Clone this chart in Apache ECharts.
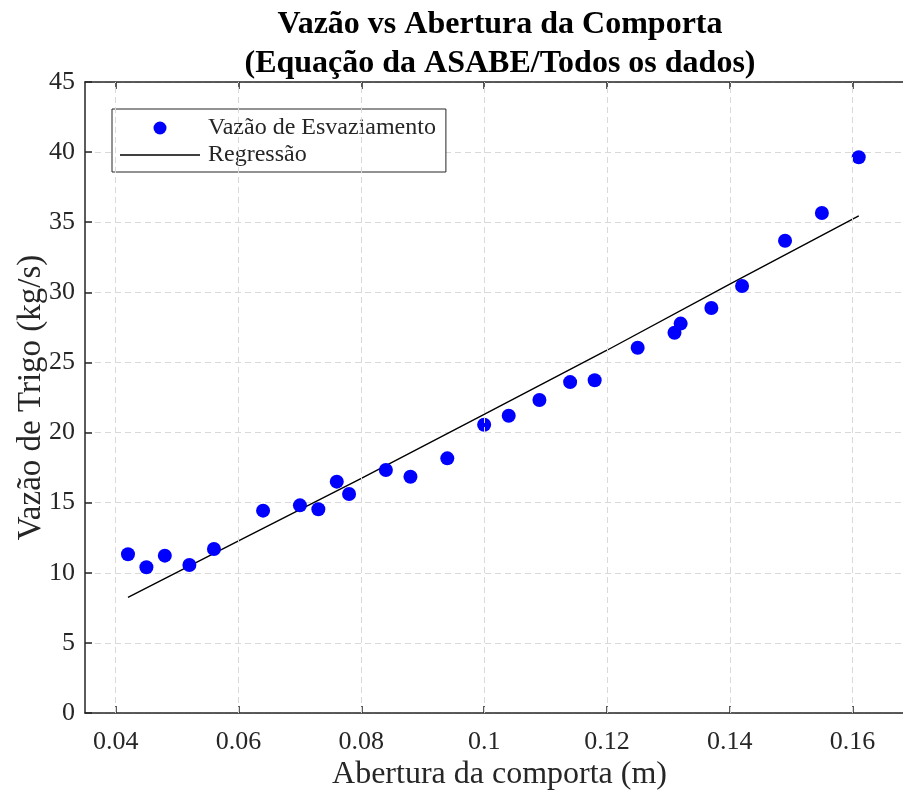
<!DOCTYPE html>
<html>
<head>
<meta charset="utf-8">
<script src="https://cdn.jsdelivr.net/npm/echarts@6/dist/echarts.min.js"></script>
<style>
  html, body { margin: 0; padding: 0; background: #ffffff; }
  #chart { width: 903px; height: 791px; }
</style>
</head>
<body>
<div id="chart"></div>
<script>
// Measured discharge vs gate opening
const aberturas = [0.042, 0.045, 0.048, 0.052, 0.056, 0.064, 0.070, 0.073, 0.076, 0.078,
                   0.084, 0.088, 0.094, 0.100, 0.104, 0.109, 0.114, 0.118, 0.125, 0.131,
                   0.132, 0.137, 0.142, 0.149, 0.155, 0.161];
const vazoes = [11.32, 10.39, 11.22, 10.55, 11.70, 14.43, 14.81, 14.53, 16.50, 15.62,
                17.33, 16.85, 18.16, 20.56, 21.20, 22.32, 23.60, 23.73, 26.05, 27.12,
                27.77, 28.88, 30.45, 33.68, 35.66, 39.63];

// Regression curve (ASABE equation) sampled along the opening range
const regX = [0.042, 0.060, 0.080, 0.100, 0.120, 0.140, 0.161];
const regY = [8.25, 12.27, 16.74, 21.29, 25.87, 30.58, 35.46];

// Axis ticks
const xTicks = [0.04, 0.06, 0.08, 0.10, 0.12, 0.14, 0.16];
const xMin = 0.035, xMax = 0.17;
const yMin = 0, yMax = 45, yStep = 5;

const serif = '"Liberation Serif", "Times New Roman", serif';
const axisColor = '#262626';
const gridColor = '#d9d9d9';

const chart = echarts.init(document.getElementById('chart'), null, { renderer: 'canvas' });

const scatterData = aberturas.map((x, i) => [x, vazoes[i]]);
const regData = regX.map((x, i) => [x, regY[i]]);

chart.setOption({
  backgroundColor: '#ffffff',
  animation: false,
  title: {
    text: 'Vazão vs Abertura da Comporta\n(Equação da ASABE/Todos os dados)',
    left: 500,
    top: 5,
    textAlign: 'center',
    padding: 0,
    textStyle: {
      fontFamily: serif,
      fontWeight: 'bold',
      fontSize: 32,
      lineHeight: 39,
      color: '#000000'
    }
  },
  legend: {
    orient: 'vertical',
    left: 112,
    top: 109,
    padding: [7, 10, 5, 8],
    itemWidth: 80,
    itemHeight: 13,
    itemGap: 3,
    backgroundColor: '#ffffff',
    borderColor: axisColor,
    borderWidth: 1,
    borderRadius: 0,
    textStyle: {
      fontFamily: serif,
      fontSize: 24,
      color: axisColor,
      padding: [0, 0, 0, 3]
    },
    data: [
      { name: 'Vazão de Esvaziamento', icon: 'circle' },
      { name: 'Regressão', icon: 'path://M0,0L80,0L80,1.4L0,1.4Z' }
    ]
  },
  grid: {
    left: 85,
    top: 82,
    width: 829,
    height: 631,
    containLabel: false,
    outerBoundsMode: 'none'
  },
  xAxis: [
    {
      type: 'value',
      min: xMin,
      max: xMax,
      name: 'Abertura da comporta (m)',
      nameLocation: 'middle',
      nameGap: 46,
      nameMoveOverlap: false,
      nameTextStyle: { fontFamily: serif, fontSize: 32, color: axisColor },
      axisLine: { show: true, onZero: false, lineStyle: { color: axisColor, width: 1.5 } },
      axisTick: { show: true, inside: true, length: 7, customValues: xTicks, lineStyle: { color: axisColor, width: 1.5 } },
      axisLabel: { customValues: xTicks, margin: 16, fontFamily: serif, fontSize: 26, color: axisColor },
      splitLine: { show: false }
    },
    {
      type: 'value',
      position: 'top',
      min: xMin,
      max: xMax,
      axisLine: { show: true, onZero: false, lineStyle: { color: axisColor, width: 1.5 } },
      axisTick: { show: true, inside: true, length: 7, customValues: xTicks, lineStyle: { color: axisColor, width: 1.5 } },
      axisLabel: { show: false },
      splitLine: { show: false }
    }
  ],
  yAxis: {
    type: 'value',
    min: yMin,
    max: yMax,
    interval: yStep,
    name: 'Vazão de Trigo (kg/s)',
    nameLocation: 'middle',
    nameGap: 37,
    nameMoveOverlap: false,
    nameTextStyle: { fontFamily: serif, fontSize: 33, color: axisColor },
    axisLine: { show: true, onZero: false, lineStyle: { color: axisColor, width: 1.5 } },
    axisTick: { show: true, inside: true, length: 7, lineStyle: { color: axisColor, width: 1.5 } },
    axisLabel: { margin: 10, fontFamily: serif, fontSize: 26, color: axisColor },
    splitLine: { show: true, lineStyle: { color: gridColor, width: 1, type: [6, 4] } }
  },
  series: [
    {
      // vertical dashed grid at the labelled opening values
      name: 'grade',
      type: 'line',
      data: [],
      silent: true,
      z: 0,
      markLine: {
        silent: true,
        symbol: ['none', 'none'],
        label: { show: false },
        lineStyle: { color: gridColor, width: 1, type: [6, 4] },
        data: xTicks.map(v => ({ xAxis: v }))
      }
    },
    {
      name: 'Regressão',
      type: 'line',
      data: regData,
      showSymbol: false,
      symbol: 'none',
      smooth: false,
      z: 3,
      lineStyle: { color: '#000000', width: 1.4 },
      itemStyle: { color: '#000000' }
    },
    {
      name: 'Vazão de Esvaziamento',
      type: 'scatter',
      data: scatterData,
      symbol: 'circle',
      symbolSize: 14,
      z: 4,
      itemStyle: { color: '#0000ff', opacity: 1 }
    }
  ]
});
</script>
</body>
</html>
